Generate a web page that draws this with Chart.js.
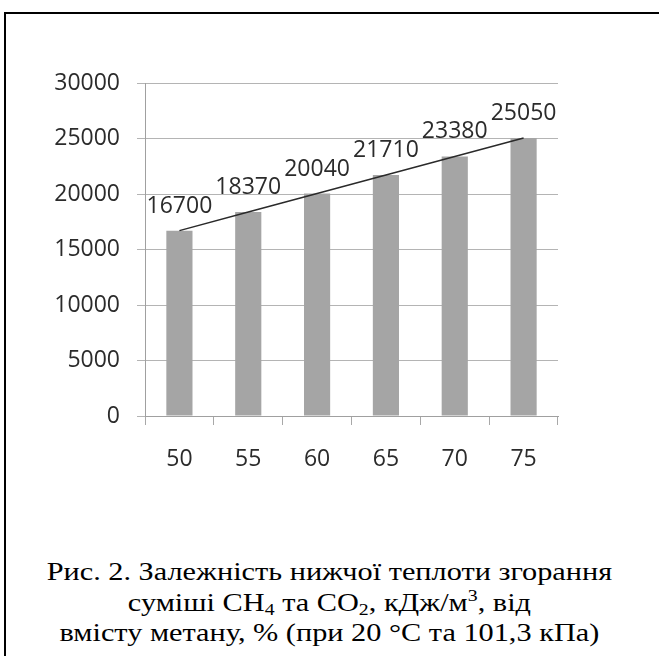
<!DOCTYPE html>
<html>
<head>
<meta charset="utf-8">
<script src="https://cdn.jsdelivr.net/npm/chart.js@4/dist/chart.umd.min.js"></script>
<style>
  html, body { margin: 0; padding: 0; background: #fff; }
  body { width: 659px; height: 656px; position: relative; overflow: hidden; }
  .frame {
    position: absolute; left: 4px; top: 12px; width: 700px; height: 700px;
    border-left: 2px solid #000; border-top: 2px solid #000;
  }
  .chart-box { position: absolute; left: 0; top: 0; width: 659px; height: 500px; }
  .caption {
    position: absolute; left: 0; top: 557px; width: 659px;
    text-align: center; font-family: "Liberation Serif", "Times New Roman", serif;
    font-size: 26px; line-height: 30.5px; color: #000;
    transform: scaleX(1.165); transform-origin: 330px 0;
  }
  .caption sub { font-size: 17px; vertical-align: -4px; line-height: 0; }
  .caption sup { font-size: 17px; vertical-align: 10px; line-height: 0; }
</style>
</head>
<body>
<div class="frame"></div>
<div class="chart-box"><canvas id="chart" width="659" height="500"></canvas></div>
<div class="caption">
  Рис. 2. Залежність нижчої теплоти згорання<br>
  суміші CH<sub>4</sub> та CO<sub>2</sub>, кДж/м<sup>3</sup>, від<br>
  вмісту метану, % (при 20 °C та 101,3 кПа)
</div>
<script>
// methane content, %
const methane = ['50', '55', '60', '65', '70', '75'];
// lower heating value, kJ/m3
const heatValues = [16700, 18370, 20040, 21710, 23380, 25050];
// linear trend drawn through the bar tops
const trendValues = [16700, 18370, 20040, 21710, 23380, 25050];

const labelFont = '"Open Sans", sans-serif';

// draws the value above every bar
const barLabels = {
  id: 'barLabels',
  afterDatasetsDraw(chart) {
    const ctx = chart.ctx;
    const meta = chart.getDatasetMeta(1);
    ctx.save();
    ctx.font = '23px ' + labelFont;
    ctx.fillStyle = '#2b2b2b';
    ctx.textAlign = 'center';
    ctx.textBaseline = 'alphabetic';
    meta.data.forEach((bar, i) => {
      ctx.fillText(String(heatValues[i]), bar.x, bar.y - 18);
    });
    ctx.restore();
  }
};

new Chart(document.getElementById('chart'), {
  type: 'bar',
  data: {
    labels: methane,
    datasets: [
      {
        type: 'line',
        data: trendValues,
        borderColor: '#2a2a2a',
        borderWidth: 1.5,
        pointRadius: 0,
        tension: 0,
        order: 0
      },
      {
        data: heatValues,
        backgroundColor: '#a5a5a5',
        categoryPercentage: 1,
        barPercentage: 0.38,
        order: 1
      }
    ]
  },
  options: {
    responsive: false,
    animation: false,
    layout: { padding: { left: 0, top: 83, right: 101, bottom: 0 } },
    plugins: {
      legend: { display: false },
      tooltip: { enabled: false }
    },
    scales: {
      x: {
        grid: { drawOnChartArea: false, drawTicks: true, tickLength: 9, color: '#a8a8a8', offset: true },
        border: { color: '#a0a0a0' },
        ticks: { font: { family: labelFont, size: 23 }, color: '#2b2b2b', padding: 21 },
        afterFit(scale) { scale.height = 84; }
      },
      y: {
        min: 0,
        max: 30000,
        ticks: {
          stepSize: 5000,
          font: { family: labelFont, size: 23 },
          color: '#2b2b2b',
          padding: 17,
          callback: (v) => String(v)
        },
        grid: { color: '#b4b4b4', tickLength: 8 },
        border: { color: '#a0a0a0' },
        afterFit(scale) { scale.width = 145; }
      }
    }
  },
  plugins: [barLabels]
});
</script>
</body>
</html>
